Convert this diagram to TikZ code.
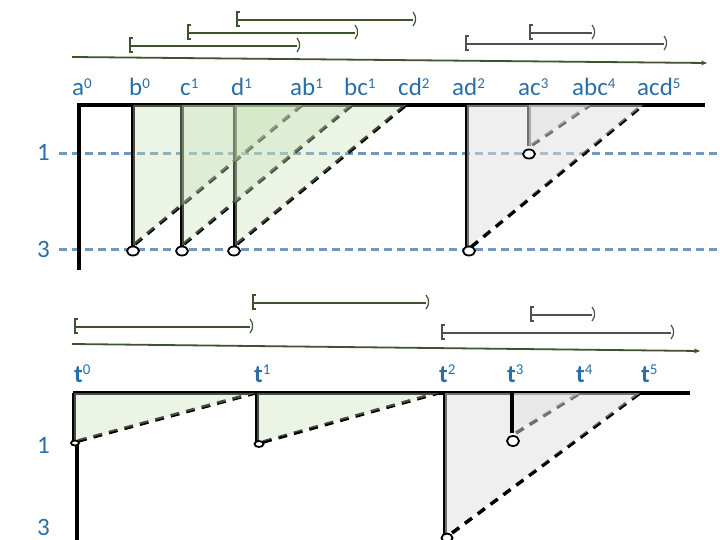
\documentclass[tikz,border=0pt]{standalone}
\usepackage{fontspec}
\setmainfont{Carlito}
\usetikzlibrary{arrows.meta}
\definecolor{lblblue}{HTML}{2A6EA6}
\definecolor{dashblue}{HTML}{6E98C0}
\definecolor{olivec}{HTML}{3F5330}
\definecolor{ivgray}{HTML}{505050}
\definecolor{gfill}{HTML}{C6E0B5}
\definecolor{grfill}{HTML}{E0E0E0}
\newcommand\sups[1]{\raisebox{7.5bp}{\fontsize{15bp}{15bp}\selectfont #1}}
\newcommand\ivl[4]{%
  \draw[ivline,draw=#4] (#1,#3) -- (#2,#3);
  \draw[ivbr,draw=#4] ({#1+3},{#3-8}) -- (#1,{#3-8}) -- (#1,{#3+6}) -- ({#1+3},{#3+6});
  \draw[ivbr,draw=#4] (#2,{#3-8}) .. controls ({#2+3.5},{#3-4}) and ({#2+3.5},{#3+2}) .. (#2,{#3+6});
}
\tikzset{
  lbl/.style={text=lblblue, font=\fontsize{25bp}{28bp}\selectfont, anchor=base west, inner sep=0pt},
  ivline/.style={line width=1.8bp},
  ivbr/.style={line width=1.2bp},
  axisline/.style={draw=olivec, line width=1.8bp, -{Stealth[length=6bp,width=5bp]}},
  blued/.style={draw=dashblue, line width=3bp, dash pattern=on 8bp off 5bp},
  frame/.style={draw=black, line width=3.8bp},
  vline/.style={draw=black, line width=3.2bp},
  dline/.style={draw=black, line width=3.6bp, dash pattern=on 9bp off 7bp},
  gtri/.style={fill=gfill, fill opacity=0.35},
  grtri/.style={fill=grfill, fill opacity=0.5},
  ring/.style={draw=black, line width=1.8bp, fill=white},
}
\begin{document}
\begin{tikzpicture}[x=1bp,y=-1bp]
\useasboundingbox (0,0) rectangle (720,540);

% ---------- top panel ----------
\ivl{237}{413}{20}{olivec}
\ivl{188}{355}{33}{olivec}
\ivl{130}{297}{46}{olivec}
\ivl{530}{592}{33}{ivgray}
\ivl{466}{664}{44}{ivgray}
\coordinate (ta0) at (72,57);
\coordinate (ta1) at (707,63);
\draw[axisline] (ta0) -- (ta1);

\node[lbl] (la0) at (72,96) {a\sups{0}};
\node[lbl] (lb0) at (129,96) {b\sups{0}};
\node[lbl] (lc1) at (180,96) {c\sups{1}};
\node[lbl] (ld1) at (231,96) {d\sups{1}};
\node[lbl] (lab1) at (290,96) {ab\sups{1}};
\node[lbl] (lbc1) at (344,96) {bc\sups{1}};
\node[lbl] (lcd2) at (398,96) {cd\sups{2}};
\node[lbl] (lad2) at (452,96) {ad\sups{2}};
\node[lbl] (lac3) at (518,96) {ac\sups{3}};
\node[lbl] (labc4) at (572,96) {abc\sups{4}};
\node[lbl] (lacd5) at (637,96) {acd\sups{5}};

\node[lbl] (one1) at (37,161) {1};
\node[lbl] (three1) at (37,258) {3};
\draw[blued] (59,154) -- (720,154);
\draw[blued] (59,250) -- (720,250);

\draw[frame] (77,105) -- (705,105);
\draw[frame] (79,103.1) -- (79,270);

% green triangles
\draw[vline] (133,105) -- (133,246);
\draw[vline] (182,105) -- (182,246);
\draw[vline] (235,105) -- (235,246);
\draw[dline] (135,244) -- (302,105);
\draw[dline] (184,244) -- (352,105);
\draw[dline] (237,244) -- (406,105);
% grey triangles
\draw[vline] (467,105) -- (467,248);
\draw[vline] (529,105) -- (529,146);
\draw[dline] (471,247) -- (643,105);
\draw[dline] (532,145) -- (590,105);

\fill[gtri] (133,105) -- (133,246) -- (302,105) -- cycle;
\fill[gtri] (182,105) -- (182,246) -- (352,105) -- cycle;
\fill[gtri] (235,105) -- (235,246) -- (406,105) -- cycle;
\fill[grtri] (467,105) -- (467,248) -- (643,105) -- cycle;
\fill[grtri] (529,105) -- (529,146) -- (590,105) -- cycle;

\draw[ring] (133,251) ellipse [x radius=6, y radius=4.5];
\draw[ring] (182,251) ellipse [x radius=6, y radius=4.5];
\draw[ring] (234,251) ellipse [x radius=6, y radius=4.5];
\draw[ring] (469,251) ellipse [x radius=6, y radius=4.5];
\draw[ring] (529,154) ellipse [x radius=6, y radius=4.5];

% ---------- bottom panel ----------
\ivl{253}{426}{303}{olivec}
\ivl{75}{250}{327}{olivec}
\ivl{531}{592}{315}{ivgray}
\ivl{442}{671}{333}{ivgray}
\coordinate (ba0) at (72,344);
\coordinate (ba1) at (700,351);
\draw[axisline] (ba0) -- (ba1);

\node[lbl] (t0) at (74,382) {\textbf{t}\sups{0}};
\node[lbl] (t1) at (254,382) {\textbf{t}\sups{1}};
\node[lbl] (t2) at (439,382) {\textbf{t}\sups{2}};
\node[lbl] (t3) at (507,382) {\textbf{t}\sups{3}};
\node[lbl] (t4) at (576,382) {\textbf{t}\sups{4}};
\node[lbl] (t5) at (641,382) {\textbf{t}\sups{5}};

\node[lbl] (one2) at (37,453) {1};
\node[lbl] (three2) at (37,535) {3};

\draw[frame] (73,393) -- (690,393);
\draw[frame] (77,443) -- (77,542);
\draw[vline] (74,393) -- (74,441);
\draw[vline] (257,393) -- (257,442);
\draw[vline] (445,393) -- (445,535);
\draw[dline] (78,441) -- (255,393);
\draw[dline] (263,442) -- (438,393);
\draw[dline] (452,533) -- (640,393);
\draw[dline] (516,433) -- (580,393);

\fill[gtri] (74,393) -- (74,442) -- (257,393) -- cycle;
\fill[gtri] (257,393) -- (257,443) -- (440,393) -- cycle;
\fill[grtri] (445,393) -- (445,535) -- (640,393) -- cycle;
\fill[grtri] (512,393) -- (512,433) -- (580,393) -- cycle;
\draw[vline] (512,393) -- (512,433);

\draw[ring] (75,443) ellipse [x radius=4, y radius=2.5];
\draw[ring] (259,444) ellipse [x radius=4.5, y radius=3];
\draw[ring] (513,441) ellipse [x radius=6, y radius=5];
\draw[ring] (447,538) ellipse [x radius=5.5, y radius=4.5];
\end{tikzpicture}
\end{document}
